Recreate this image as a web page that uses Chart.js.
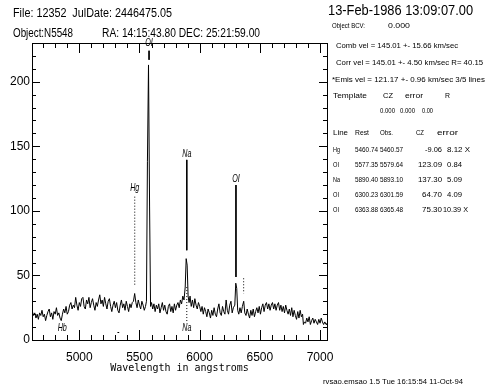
<!DOCTYPE html>
<html>
<head>
<meta charset="utf-8">
<style>
  html, body { margin: 0; padding: 0; background: #fff; }
  #wrap { position: relative; width: 499px; height: 385px; overflow: hidden; }
  #spec { position: absolute; left: 0; top: 0; }
  .t { position: absolute; white-space: pre; font-family: "Liberation Sans", Arial, sans-serif;
       color: #000; line-height: 1; transform-origin: 0 0; }
</style>
<script src="https://cdn.jsdelivr.net/npm/chart.js@4.4.1/dist/chart.umd.min.js"></script>
</head>
<body>
<div id="wrap"><canvas id="spec" width="499" height="385" style="width:499px;height:385px"></canvas></div>
<script>
// spectrum (angstroms / counts), 10 per row
const wavelengths = [
  4610, 4620, 4630, 4640, 4650, 4660, 4670, 4680, 4690, 4700,
  4710, 4720, 4730, 4740, 4750, 4760, 4770, 4780, 4790, 4800,
  4810, 4820, 4830, 4840, 4850, 4860, 4870, 4880, 4890, 4900,
  4910, 4920, 4930, 4940, 4950, 4960, 4970, 4980, 4990, 5000,
  5010, 5020, 5030, 5040, 5050, 5060, 5070, 5080, 5090, 5100,
  5110, 5120, 5130, 5140, 5150, 5160, 5170, 5180, 5190, 5200,
  5210, 5220, 5230, 5240, 5250, 5260, 5270, 5280, 5290, 5300,
  5310, 5320, 5330, 5340, 5350, 5360, 5370, 5380, 5390, 5400,
  5410, 5420, 5430, 5440, 5450, 5460, 5470, 5480, 5490, 5500,
  5510, 5520, 5530, 5540, 5550, 5558, 5566, 5575, 5584, 5592,
  5600, 5610, 5620, 5630, 5640, 5650, 5660, 5670, 5680, 5690,
  5700, 5710, 5720, 5730, 5740, 5750, 5760, 5770, 5780, 5790,
  5800, 5810, 5820, 5830, 5840, 5850, 5860, 5870, 5880, 5888,
  5896, 5904, 5912, 5920, 5930, 5940, 5950, 5960, 5970, 5980,
  5990, 6000, 6010, 6020, 6030, 6040, 6050, 6060, 6070, 6080,
  6090, 6100, 6110, 6120, 6130, 6140, 6150, 6160, 6170, 6180,
  6190, 6200, 6210, 6220, 6230, 6240, 6250, 6260, 6270, 6280,
  6292, 6300, 6308, 6316, 6325, 6335, 6345, 6355, 6366, 6375,
  6385, 6395, 6405, 6415, 6425, 6435, 6445, 6455, 6465, 6475,
  6485, 6495, 6505, 6515, 6525, 6535, 6545, 6555, 6565, 6575,
  6585, 6595, 6605, 6615, 6625, 6635, 6645, 6655, 6665, 6675,
  6685, 6695, 6705, 6715, 6725, 6735, 6745, 6755, 6765, 6775,
  6785, 6795, 6805, 6815, 6825, 6835, 6845, 6855, 6862, 6870,
  6880, 6890, 6900, 6910, 6920, 6930, 6940, 6950, 6960, 6970,
  6980, 6990, 7000, 7010, 7020, 7030, 7040, 7050, 7056
];
const flux = [
  22, 19, 21, 17, 20, 16, 21, 19, 23, 18,
  20, 15, 19, 22, 24, 18, 21, 16, 22, 20,
  25, 19, 21, 17, 15, 20, 24, 21, 26, 20,
  22, 27, 29, 24, 27, 25, 33, 27, 23, 29,
  26, 32, 33, 26, 24, 31, 28, 33, 25, 29,
  32, 27, 23, 29, 26, 31, 35, 28, 31, 26,
  33, 28, 24, 30, 32, 26, 22, 27, 30, 25,
  29, 23, 21, 27, 31, 25, 28, 23, 30, 26,
  22, 28, 25, 29, 30, 36, 29, 25, 31, 27,
  24, 30, 27, 23, 26, 30, 138, 213, 103, 26,
  29, 24, 28, 22, 27, 24, 28, 21, 25, 29,
  23, 27, 22, 20, 26, 28, 22, 26, 21, 28,
  23, 27, 29, 25, 31, 28, 34, 31, 41, 63,
  58, 34, 29, 34, 26, 31, 25, 32, 27, 24,
  29, 26, 22, 26, 20, 25, 22, 18, 24, 21,
  17, 23, 19, 25, 20, 18, 24, 28, 21, 19,
  26, 22, 20, 31, 23, 20, 27, 30, 21, 25,
  27, 44, 40, 23, 20, 25, 21, 26, 30, 21,
  19, 24, 20, 17, 23, 19, 24, 18, 22, 25,
  21, 26, 20, 25, 28, 22, 27, 29, 24, 28,
  23, 27, 29, 24, 28, 23, 27, 29, 23, 27,
  22, 26, 21, 27, 23, 20, 24, 19, 25, 18,
  23, 19, 16, 22, 17, 23, 18, 20, 12, 14,
  13, 17, 14, 18, 12, 15, 17, 13, 16, 14,
  12, 16, 13, 17, 14, 12, 14, 12, 13
];

// identified lines: emission markers above the spectrum
const lineNames = ['Hg', 'OI', 'Na', 'OI', 'OI'];
const lineWaves = [5460.6, 5579.6, 5893.1, 6301.6, 6365.5];
const lineTop = [111, 224, 139.5, 120, 47.8];
const lineBottom = [42, 217, 69.5, 48.8, 36];
const lineDotted = [true, false, false, false, true];
const lineNameLevel = [117.5, 230.4, 144, 124.9, null];

// absorption markers below the spectrum
const absNames = ['Hb', '-', 'Na'];
const absWaves = [4858, 5323, 5893.1];
const absTop = [null, null, 41];
const absBottom = [null, null, 13];
const absNameLevel = [9.1, 6, 9.1];

const xTickValues = [5000, 5500, 6000, 6500, 7000];
const yTickValues = [0, 50, 100, 150, 200];
const xRange = [4607, 7058];
const yRange = [0, 230];

// header and results panel: text, left, right, baseline, size
const panelText = [
  ['File: 12352  JulDate: 2446475.05', 13, 172, 16.7, 12],
  ['13-Feb-1986 13:09:07.00', 328, 473, 15, 14],
  ['Object:N5548', 13, 73, 36.7, 12],
  ['RA: 14:15:43.80 DEC: 25:21:59.00', 102, 260, 36.7, 12],
  ['Object BCV:', 332, 365, 28.3, 8],
  ['0.000', 388, 410, 28.3, 8],
  ['Comb vel = 145.01 +- 15.66 km/sec', 336, 458, 49, 8],
  ['Corr vel = 145.01 +- 4.50 km/sec R= 40.15', 336, 483, 65.7, 8],
  ['*Emis vel = 121.17 +- 0.96 km/sec 3/5 lines', 332, 485, 82.3, 8],
  ['Template', 333, 367, 99, 8], ['CZ', 383, 393, 99, 8], ['error', 405, 423, 99, 8], ['R', 445, 450, 99, 8],
  ['0.000', 380, 395, 113.3, 8], ['0.000', 400, 415, 113.3, 8], ['0.00', 422, 433, 113.3, 8],
  ['Line', 333, 348, 135.7, 8], ['Rest', 355, 369, 135.7, 8], ['Obs.', 380, 393, 135.7, 8],
  ['CZ', 416, 424, 135.7, 8], ['error', 437, 458, 135.7, 8],
  ['Hg', 333, 340, 152.3, 8], ['5460.74', 355, 378, 152.3, 8], ['5460.57', 380, 403, 152.3, 8],
  ['-9.06', 425, 442, 152.3, 8], ['8.12 X', 447, 470, 152.3, 8],
  ['OI', 333, 339, 167.3, 8], ['5577.35', 355, 378, 167.3, 8], ['5579.64', 380, 403, 167.3, 8],
  ['123.09', 418, 442, 167.3, 8], ['0.84', 447, 462, 167.3, 8],
  ['Na', 333, 340, 182.3, 8], ['5890.40', 355, 378, 182.3, 8], ['5893.10', 380, 403, 182.3, 8],
  ['137.30', 418, 442, 182.3, 8], ['5.09', 447, 462, 182.3, 8],
  ['OI', 333, 339, 197.3, 8], ['6300.23', 355, 378, 197.3, 8], ['6301.59', 380, 403, 197.3, 8],
  ['64.70', 422, 442, 197.3, 8], ['4.09', 447, 462, 197.3, 8],
  ['OI', 333, 339, 212.3, 8], ['6363.88', 355, 378, 212.3, 8], ['6365.48', 380, 403, 212.3, 8],
  ['75.30', 422, 442, 212.3, 8], ['10.39 X', 443, 468, 212.3, 8],
  ['rvsao.emsao 1.5 Tue 16:15:54 11-Oct-94', 323, 463, 384, 7]
];

const wrap = document.getElementById('wrap');
panelText.forEach(([str, x1, x2, base, size]) => {
  const el = document.createElement('div');
  el.className = 't';
  el.textContent = str;
  el.style.fontSize = size + 'px';
  el.style.left = x1 + 'px';
  el.style.top = (base - 0.85 * size) + 'px';
  wrap.appendChild(el);
  const w = el.getBoundingClientRect().width;
  el.style.transform = 'scaleX(' + ((x2 - x1) / w).toFixed(3) + ')';
});

// datasets
const spectrum = wavelengths.map((w, i) => ({ x: w, y: flux[i] }));
const datasets = [{
  data: spectrum, borderColor: '#000', borderWidth: 1, pointRadius: 0, tension: 0
}];
lineWaves.forEach((w, i) => {
  datasets.push({
    data: [{ x: w, y: lineTop[i] }, { x: w, y: lineBottom[i] }],
    borderColor: '#000', borderWidth: 1, pointRadius: 0,
    borderDash: lineDotted[i] ? [1, 2] : []
  });
});
absWaves.forEach((w, i) => {
  if (absTop[i] === null) return;
  datasets.push({
    data: [{ x: w, y: absTop[i] }, { x: w, y: absBottom[i] }],
    borderColor: '#000', borderWidth: 1, pointRadius: 0, borderDash: [1, 2]
  });
});

// ticks pointing into the frame on all four sides
const insideTicks = {
  id: 'insideTicks',
  afterDraw(chart) {
    const { ctx, chartArea: a, scales: { x, y } } = chart;
    ctx.save();
    ctx.strokeStyle = '#000';
    ctx.lineWidth = 1;
    ctx.beginPath();
    for (let w = 4700; w <= 7000; w += 100) {
      const px = Math.round(x.getPixelForValue(w)) + 0.5;
      const len = w % 500 === 0 ? 10 : 5;
      ctx.moveTo(px, a.bottom); ctx.lineTo(px, a.bottom - len);
      ctx.moveTo(px, a.top); ctx.lineTo(px, a.top + len);
    }
    for (let v = 10; v < 230; v += 10) {
      const py = Math.round(y.getPixelForValue(v)) + 0.5;
      const len = v % 50 === 0 ? 8 : 4;
      ctx.moveTo(a.left, py); ctx.lineTo(a.left + len, py);
      ctx.moveTo(a.right, py); ctx.lineTo(a.right - len, py);
    }
    ctx.stroke();
    ctx.restore();
  }
};

// line identifications (narrow italic)
const lineLabels = {
  id: 'lineLabels',
  afterDatasetsDraw(chart) {
    const { ctx, scales: { x, y } } = chart;
    const put = (txt, w, v) => {
      ctx.save();
      ctx.translate(x.getPixelForValue(w), y.getPixelForValue(v));
      ctx.scale(0.65, 1);
      ctx.fillText(txt, 0, 0);
      ctx.restore();
    };
    ctx.save();
    ctx.fillStyle = '#000';
    ctx.font = 'italic 11px "Liberation Sans"';
    ctx.textAlign = 'center';
    ctx.textBaseline = 'middle';
    lineNames.forEach((n, i) => { if (lineNameLevel[i] !== null) put(n, lineWaves[i], lineNameLevel[i]); });
    absNames.forEach((n, i) => put(n, absWaves[i], absNameLevel[i]));
    ctx.restore();
  }
};

const tickFont = { family: 'Liberation Sans', size: 12 };
const noGrid = { display: false, drawTicks: false };
const frame = { display: true, color: '#000', width: 1 };

new Chart(document.getElementById('spec'), {
  type: 'line',
  data: { datasets },
  options: {
    responsive: false,
    animation: false,
    devicePixelRatio: 1,
    layout: { padding: 0 },
    plugins: { legend: { display: false }, tooltip: { enabled: false } },
    scales: {
      x: {
        type: 'linear', position: 'bottom', min: xRange[0], max: xRange[1],
        grid: noGrid, border: frame,
        afterBuildTicks: s => { s.ticks = xTickValues.map(v => ({ value: v })); },
        ticks: { color: '#000', font: tickFont, padding: 10, maxRotation: 0, autoSkip: false,
                 callback: v => String(v) },
        title: {
          display: true, text: 'Wavelength in angstroms', color: '#000',
          font: { family: 'DejaVu Sans Mono', size: 10 }, padding: { top: 0, bottom: 11 }
        },
        afterFit: s => { s.height = 45; }
      },
      x2: {
        type: 'linear', position: 'top', min: xRange[0], max: xRange[1],
        grid: noGrid, border: frame, ticks: { display: false },
        afterFit: s => { s.height = 43; }
      },
      y: {
        type: 'linear', position: 'left', min: yRange[0], max: yRange[1],
        grid: noGrid, border: frame,
        afterBuildTicks: s => { s.ticks = yTickValues.map(v => ({ value: v })); },
        ticks: { color: '#000', font: tickFont, padding: 2 },
        afterFit: s => { s.width = 32; }
      },
      y2: {
        type: 'linear', position: 'right', min: yRange[0], max: yRange[1],
        grid: noGrid, border: frame, ticks: { display: false },
        afterFit: s => { s.width = 172; }
      }
    }
  },
  plugins: [insideTicks, lineLabels]
});
</script>
</body>
</html>
